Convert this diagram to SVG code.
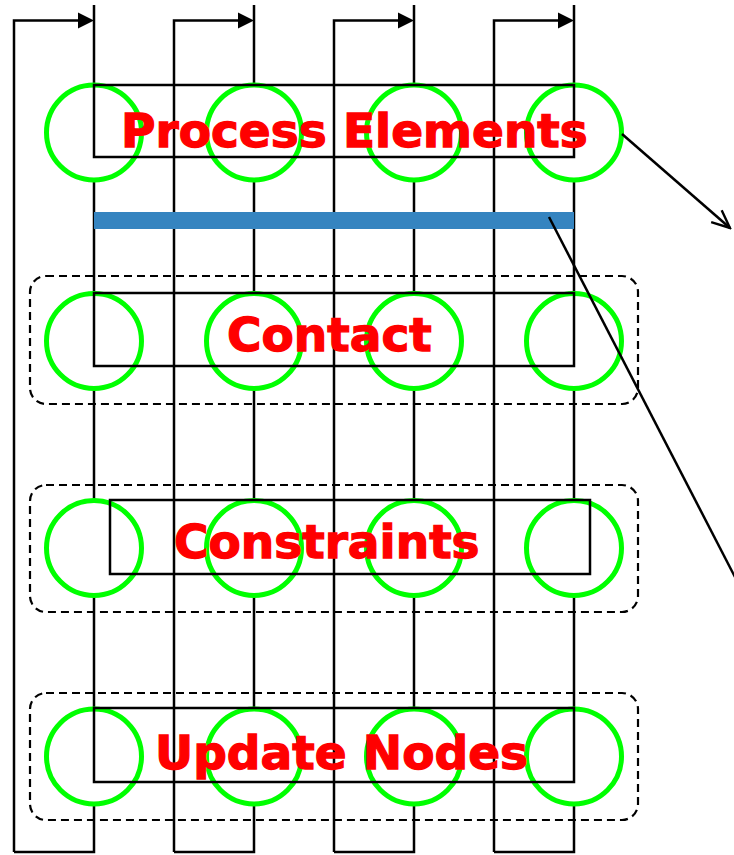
<svg xmlns="http://www.w3.org/2000/svg" width="734" height="855" viewBox="0 0 734 855">
<defs>
<style>
.ln{stroke:#000;stroke-width:2.5;fill:none}
.grp{stroke:#000;stroke-width:2.2;fill:none;stroke-dasharray:8 5}
.pe{stroke:#00ff00;stroke-width:5;fill:#fff}
.box{stroke:#000;stroke-width:2.5;fill:none}
.lbl{font-family:"DejaVu Sans","Verdana",sans-serif;font-weight:bold;font-size:47px;fill:#ff0000;stroke:#ff0000;stroke-width:1.3}
</style>
<marker id="oa" markerWidth="22" markerHeight="22" refX="20" refY="10" orient="auto" markerUnits="userSpaceOnUse" viewBox="0 0 22 20">
<path d="M2,2 L20,10 L2,18" fill="none" stroke="#000" stroke-width="2.4"/>
</marker>
</defs>
<rect width="734" height="855" fill="#fff"/>
<g id="connectors">
<path class="ln" d="M14,852 V20.5 H80"/>
<path class="ln" d="M174,852 V20.5 H240"/>
<path class="ln" d="M334,852 V20.5 H400"/>
<path class="ln" d="M494,852 V20.5 H560"/>
<polygon points="78,12.5 94,20.5 78,28.5" fill="#000"/>
<polygon points="238,12.5 254,20.5 238,28.5" fill="#000"/>
<polygon points="398,12.5 414,20.5 398,28.5" fill="#000"/>
<polygon points="558,12.5 574,20.5 558,28.5" fill="#000"/>
<path class="ln" d="M94,5 V852 H14"/>
<path class="ln" d="M254,5 V852 H174"/>
<path class="ln" d="M414,5 V852 H334"/>
<path class="ln" d="M574,5 V852 H494"/>
</g>
<g id="group-contact"><rect class="grp" x="30" y="276" width="608" height="128" rx="16"/></g>
<g id="group-constraints"><rect class="grp" x="30" y="485" width="608" height="127" rx="16"/></g>
<g id="group-update"><rect class="grp" x="30" y="693" width="608" height="127" rx="16"/></g>
<g id="barrier"><rect x="94" y="212" width="480" height="17" fill="#3584c0"/></g>
<g id="process-elements">
<circle class="pe" cx="94" cy="132.5" r="47.5"/>
<circle class="pe" cx="254" cy="132.5" r="47.5"/>
<circle class="pe" cx="414" cy="132.5" r="47.5"/>
<circle class="pe" cx="574" cy="132.5" r="47.5"/>
<rect class="box" x="94" y="85" width="480" height="72"/>
<text class="lbl" x="121" y="147">Process Elements</text>
</g>
<g id="contact">
<circle class="pe" cx="94" cy="341" r="47.5"/>
<circle class="pe" cx="254" cy="341" r="47.5"/>
<circle class="pe" cx="414" cy="341" r="47.5"/>
<circle class="pe" cx="574" cy="341" r="47.5"/>
<rect class="box" x="94" y="293" width="480" height="73"/>
<text class="lbl" x="227" y="351">Contact</text>
</g>
<g id="constraints">
<circle class="pe" cx="94" cy="548" r="47.5"/>
<circle class="pe" cx="254" cy="548" r="47.5"/>
<circle class="pe" cx="414" cy="548" r="47.5"/>
<circle class="pe" cx="574" cy="548" r="47.5"/>
<rect class="box" x="110" y="500" width="480" height="74"/>
<text class="lbl" x="174" y="558">Constraints</text>
</g>
<g id="update-nodes">
<circle class="pe" cx="94" cy="756.5" r="47.5"/>
<circle class="pe" cx="254" cy="756.5" r="47.5"/>
<circle class="pe" cx="414" cy="756.5" r="47.5"/>
<circle class="pe" cx="574" cy="756.5" r="47.5"/>
<rect class="box" x="94" y="708" width="480" height="74"/>
<text class="lbl" x="155" y="769">Update Nodes</text>
</g>
<g id="callouts">
<line class="ln" x1="622" y1="134" x2="730" y2="228" marker-end="url(#oa)"/>
<line class="ln" x1="549" y1="217" x2="736" y2="579"/>
</g>
</svg>
